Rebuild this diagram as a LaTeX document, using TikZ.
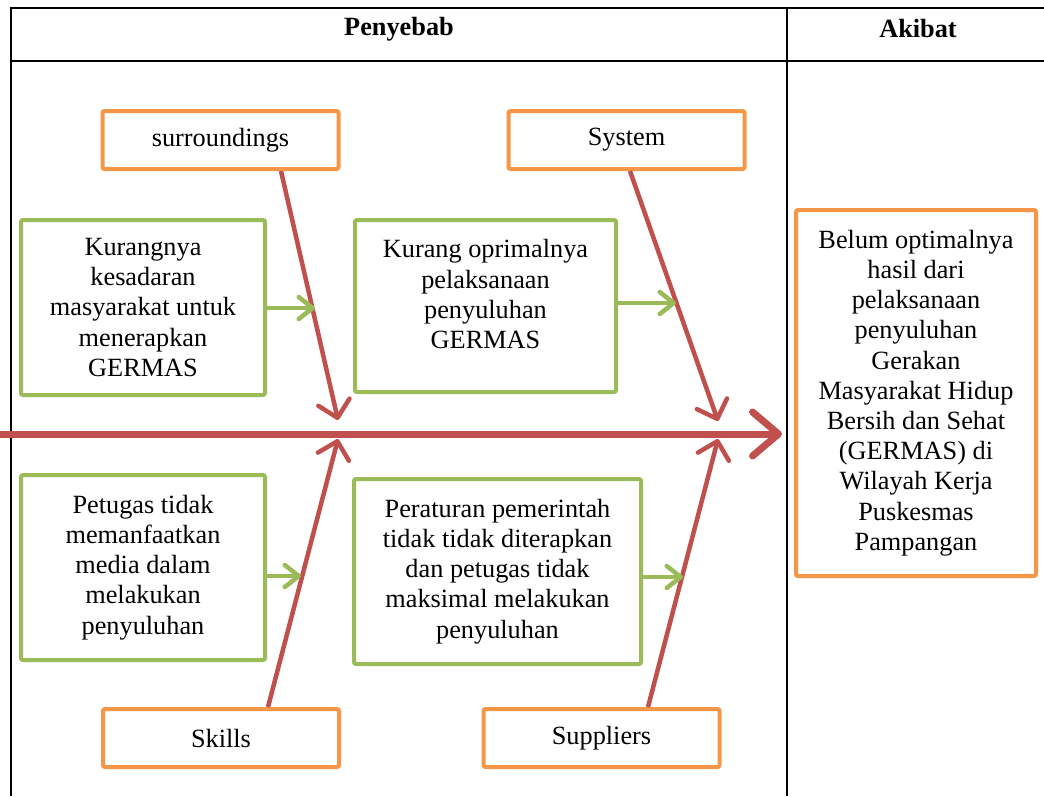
\documentclass[tikz,border=0pt]{standalone}
\usepackage{fontspec}
\setmainfont{Liberation Serif}
\usepackage{tikz}
\usetikzlibrary{arrows.meta}
\definecolor{catorange}{RGB}{247,150,70}
\definecolor{causegreen}{RGB}{155,187,89}
\definecolor{bonered}{RGB}{192,80,77}

\begin{document}
\begin{tikzpicture}[x=1pt,y=-1pt,
  txt/.style={font=\fontsize{26.3}{30.2}\selectfont},
  catbox/.style={txt,draw=catorange,line width=4pt,rounded corners=2pt,minimum width=236pt,minimum height=58pt},
  causebox/.style={txt,draw=causegreen,line width=4pt,rounded corners=2pt,align=center},
  bone/.style={draw=bonered,line width=4.5pt,-{Straight Barb[length=16pt,width=32pt,round]}},
  twig/.style={draw=causegreen,line width=4.5pt,-{Straight Barb[length=14pt,width=22pt,round]}}]
  \useasboundingbox (0,0) rectangle (1044,796);

  % table frame
  \draw[line width=2pt] (11,796) -- (11,8) -- (1044,8);
  \draw[line width=2pt] (11,61) -- (1044,61);
  \draw[line width=2pt] (787,8) -- (787,796);
  \node[txt,font=\fontsize{26.3}{30.2}\selectfont\bfseries] (hcause) at (399,29) {Penyebab};
  \node[txt,font=\fontsize{26.3}{30.2}\selectfont\bfseries] (heffect) at (918,29) {Akibat};

  % categories
  \node[catbox] (surr) at (220.5,140) {surroundings};
  \node[catbox] (sys) at (626.5,140) {System};
  \node[catbox] (skl) at (221,738) {Skills};
  \node[catbox] (supp) at (601.5,738) {Suppliers};

  % causes
  \node[causebox,minimum width=244pt,minimum height=175pt] (cause1) at (143,307.5)
    {Kurangnya\\ kesadaran\\ masyarakat untuk\\ menerapkan\\ GERMAS};
  \node[causebox,minimum width=261pt,minimum height=172pt] (cause2) at (485.5,306)
    {Kurang oprimalnya\\ pelaksanaan\\ penyuluhan\\ GERMAS\rule[-24pt]{0pt}{24pt}};
  \node[causebox,minimum width=244pt,minimum height=185pt] (cause3) at (143,567.5)
    {Petugas tidak\\ memanfaatkan\\ media dalam\\ melakukan\\ penyuluhan};
  \node[causebox,minimum width=287pt,minimum height=185pt] (cause4) at (497.5,571.5)
    {Peraturan pemerintah\\ tidak tidak diterapkan\\ dan petugas tidak\\ maksimal melakukan\\ penyuluhan};

  % effect
  \node[causebox,draw=catorange,minimum width=240pt,minimum height=366pt] (effect) at (916,393)
    {Belum optimalnya\\ hasil dari\\ pelaksanaan\\ penyuluhan\\ Gerakan\\ Masyarakat Hidup\\ Bersih dan Sehat\\ (GERMAS) di\\ Wilayah Kerja\\ Puskesmas\\ Pampangan};

  % spine
  \coordinate (tail) at (0,434);
  \coordinate (head) at (782,434);
  \draw[draw=bonered,line width=7pt,-{Straight Barb[length=26pt,width=44pt,round]}] (tail) -- (head);

  \coordinate (j1a) at (338,420);
  \coordinate (j1b) at (338,439);
  \coordinate (j2a) at (718,421);
  \coordinate (j2b) at (718,439);
  \draw[bone] ([xshift=60.5pt]surr.south) -- (j1a);
  \draw[bone] ([xshift=3.5pt]sys.south) -- (j2a);
  \draw[bone] ([xshift=47pt]skl.north) -- (j1b);
  \draw[bone] ([xshift=46.5pt]supp.north) -- (j2b);

  \coordinate (t1) at (315,308);
  \coordinate (t2) at (676,303);
  \coordinate (t3) at (301,576);
  \coordinate (t4) at (683,577);
  \draw[twig] (cause1.east |- t1) -- (t1);
  \draw[twig] (cause2.east |- t2) -- (t2);
  \draw[twig] (cause3.east |- t3) -- (t3);
  \draw[twig] (cause4.east |- t4) -- (t4);
\end{tikzpicture}
\end{document}
